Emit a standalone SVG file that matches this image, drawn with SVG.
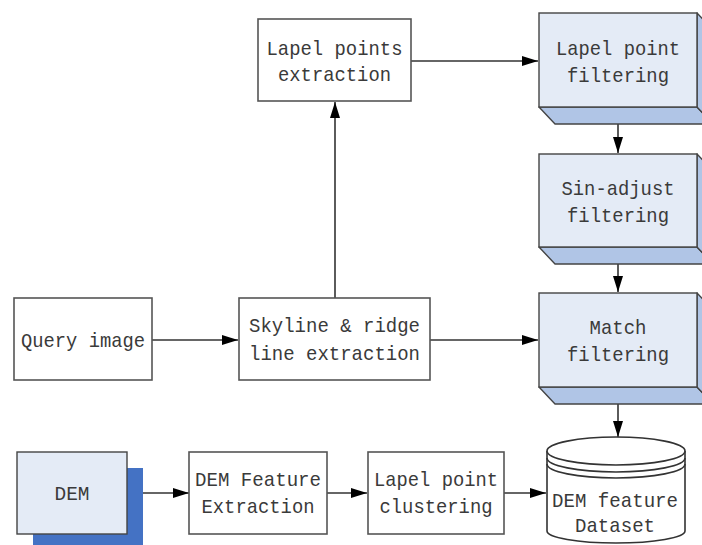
<svg xmlns="http://www.w3.org/2000/svg" width="702" height="545" viewBox="0 0 702 545">
  <defs>
    <marker id="arrow" viewBox="0 0 16 10" refX="16" refY="5" markerWidth="16" markerHeight="10" markerUnits="userSpaceOnUse" orient="auto">
      <path d="M0,0 L16,5 L0,10 Z" fill="#000"/>
    </marker>
    <style>
      .box { fill: #fff; stroke: #555; stroke-width: 1.6; }
      .front { fill: #E4EBF6; stroke: #444; stroke-width: 1.4; }
      .side { fill: #B0C5E6; stroke: #444; stroke-width: 1.4; stroke-linejoin: round; }
      .edge { fill: none; stroke: #333; stroke-width: 1.6; }
      .cyl { fill: #fff; stroke: #333; stroke-width: 1.6; }
      .lbl { font-family: "Liberation Mono", "DejaVu Sans Mono", monospace; font-size: 21px; fill: #3a3a3a; text-anchor: middle; }
      .link { fill: none; stroke: #333; stroke-width: 1.6; marker-end: url(#arrow); }
    </style>
  </defs>

  <rect width="702" height="545" fill="#fff"/>

  <!-- Connectors -->
  <g id="connectors">
    <path class="link" d="M335,298 L335,102"/>
    <path class="link" d="M411,61 L538,61"/>
    <path class="link" d="M618,107 L618,153"/>
    <path class="link" d="M618,247 L618,292"/>
    <path class="link" d="M618,387 L618,437"/>
    <path class="link" d="M152,340 L238,340"/>
    <path class="link" d="M430,340 L538,340"/>
    <path class="link" d="M127,493 L189,493"/>
    <path class="link" d="M327,493 L367,493"/>
    <path class="link" d="M504,493 L546,493"/>
  </g>

  <!-- Lapel points extraction -->
  <g id="lapel-points-extraction">
    <rect class="box" x="258" y="19" width="153" height="82"/>
    <text class="lbl" x="334.5" y="55" textLength="136" lengthAdjust="spacingAndGlyphs">Lapel points</text>
    <text class="lbl" x="334.5" y="81" textLength="113" lengthAdjust="spacingAndGlyphs">extraction</text>
  </g>

  <!-- Lapel point filtering (raised block) -->
  <g id="lapel-point-filtering">
    <polygon class="side" points="539,107 697,107 713,124 555,124"/>
    <polygon class="side" points="697,13 713,30 713,124 697,107"/>
    <rect class="front" x="539" y="13" width="158" height="94"/>
    <text class="lbl" x="618" y="55" textLength="124" lengthAdjust="spacingAndGlyphs">Lapel point</text>
    <text class="lbl" x="618" y="82" textLength="102" lengthAdjust="spacingAndGlyphs">filtering</text>
  </g>

  <!-- Sin-adjust filtering (raised block) -->
  <g id="sin-adjust-filtering">
    <polygon class="side" points="539,247 697,247 713,264 555,264"/>
    <polygon class="side" points="697,154 713,171 713,264 697,247"/>
    <rect class="front" x="539" y="154" width="158" height="93"/>
    <text class="lbl" x="618" y="195" textLength="113" lengthAdjust="spacingAndGlyphs">Sin-adjust</text>
    <text class="lbl" x="618" y="222" textLength="102" lengthAdjust="spacingAndGlyphs">filtering</text>
  </g>

  <!-- Match filtering (raised block) -->
  <g id="match-filtering">
    <polygon class="side" points="539,387 697,387 713,404 555,404"/>
    <polygon class="side" points="697,293 713,310 713,404 697,387"/>
    <rect class="front" x="539" y="293" width="158" height="94"/>
    <text class="lbl" x="618" y="334" textLength="57" lengthAdjust="spacingAndGlyphs">Match</text>
    <text class="lbl" x="618" y="361" textLength="102" lengthAdjust="spacingAndGlyphs">filtering</text>
  </g>

  <!-- Query image -->
  <g id="query-image">
    <rect class="box" x="14" y="298" width="138" height="82"/>
    <text class="lbl" x="83" y="347" textLength="124" lengthAdjust="spacingAndGlyphs">Query image</text>
  </g>

  <!-- Skyline & ridge line extraction -->
  <g id="skyline-extraction">
    <rect class="box" x="239" y="298" width="191" height="82"/>
    <text class="lbl" x="334.5" y="332" textLength="171" lengthAdjust="spacingAndGlyphs">Skyline &amp; ridge</text>
    <text class="lbl" x="334.5" y="360" textLength="171" lengthAdjust="spacingAndGlyphs">line extraction</text>
  </g>

  <!-- DEM (with drop shadow) -->
  <g id="dem">
    <rect x="33" y="468" width="110" height="82" fill="#4472C4"/>
    <rect class="front" x="17" y="452" width="110" height="82"/>
    <text class="lbl" x="72" y="500" textLength="35" lengthAdjust="spacingAndGlyphs">DEM</text>
  </g>

  <!-- DEM Feature Extraction -->
  <g id="dem-feature-extraction">
    <rect class="box" x="189" y="452" width="138" height="82"/>
    <text class="lbl" x="258" y="486" textLength="126" lengthAdjust="spacingAndGlyphs">DEM Feature</text>
    <text class="lbl" x="258" y="513" textLength="113" lengthAdjust="spacingAndGlyphs">Extraction</text>
  </g>

  <!-- Lapel point clustering -->
  <g id="lapel-point-clustering">
    <rect class="box" x="368" y="452" width="136" height="82"/>
    <text class="lbl" x="436" y="486" textLength="124" lengthAdjust="spacingAndGlyphs">Lapel point</text>
    <text class="lbl" x="436" y="513" textLength="113" lengthAdjust="spacingAndGlyphs">clustering</text>
  </g>

  <!-- DEM feature Dataset (cylinder) -->
  <g id="dem-feature-dataset">
    <path class="cyl" d="M547,451 L547,531 A69,12 0 0 0 685,531 L685,451"/>
    <ellipse class="cyl" cx="616" cy="451" rx="69" ry="14"/>
    <path class="edge" d="M547,458 A69,14 0 0 0 685,458"/>
    <path class="edge" d="M547,464 A69,14 0 0 0 685,464"/>
    <text class="lbl" x="615" y="507" textLength="126" lengthAdjust="spacingAndGlyphs">DEM feature</text>
    <text class="lbl" x="615" y="532" textLength="80" lengthAdjust="spacingAndGlyphs">Dataset</text>
  </g>
</svg>
